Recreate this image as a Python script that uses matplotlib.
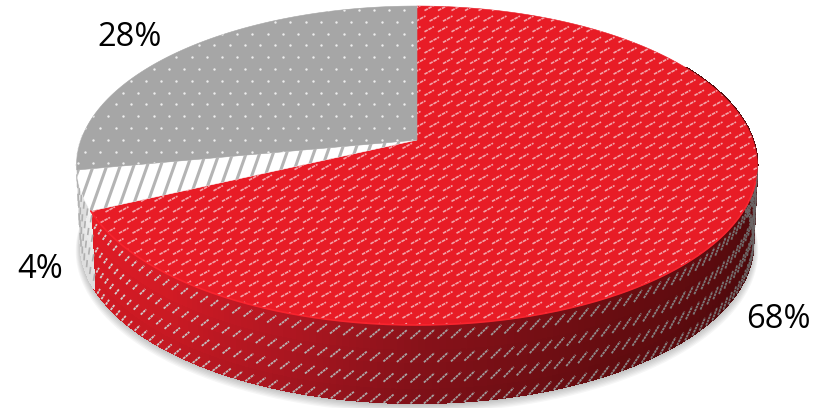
import numpy as np
import matplotlib
matplotlib.use("Agg")
import matplotlib.pyplot as plt
from matplotlib.patches import Polygon
from matplotlib.collections import LineCollection, PolyCollection
from matplotlib.colors import to_rgb

categories = ["A", "B", "C"]
values = [68, 4, 28]
labels = ["68%", "4%", "28%"]
top_colors = ["#e81c26", "#ffffff", "#a6a6a6"]

CX, CY, A, B, K, DEPTH = 417, 140, 336, 155.4, 0.16, 78

def project(theta_deg, depth=0.0, r=1.0):
    t = np.radians(theta_deg)
    u, v = r * np.sin(t), r * np.cos(t)
    p = 1 + K * v
    return CX + A * u / p * (1 - 0.012 * depth / DEPTH), CY - B * v / p + depth

def wedge_xy(a0, a1):
    th = np.linspace(a0, a1, 200)
    x, y = project(th)
    return np.column_stack([np.r_[CX, x], np.r_[CY, y]])

fig = plt.figure(figsize=(8.27, 4.08), dpi=100)
ax = fig.add_axes([0, 0, 1, 1])
ax.set_xlim(0, 827)
ax.set_ylim(408, 0)
ax.axis("off")

edges = np.r_[0, np.cumsum(values)] / np.sum(values) * 360.0

# soft shadow
th_all = np.linspace(0, 360, 400)
for i in range(8):
    sx, sy = project(th_all, DEPTH + 1 + i * 0.8, 1 + i * 0.0022)
    ax.fill(sx, sy, color="#000000", alpha=0.035, lw=0, zorder=1)

# side wall shading
def side_rgb(theta, frac):
    if theta > edges[1]:
        base = np.array(to_rgb("#f2f2f2"))
    else:
        stops_t = [60, 110, 150, 180, 200, 220, 245]
        stops_c = [to_rgb(c) for c in ["#4a0a0c", "#520a0d", "#6a0d11", "#8a121a", "#b41722", "#d41b25", "#e61c26"]]
        base = np.array([np.interp(theta, stops_t, [c[j] for c in stops_c]) for j in range(3)])
    return tuple(base * (1 - 0.10 * frac))

quads, cols = [], []
ths = np.arange(60, 272, 1.0)
ds = np.linspace(0, DEPTH, 7)
for t0 in ths:
    for d0, d1 in zip(ds[:-1], ds[1:]):
        x0, y0 = project(t0, d0); x1, y1 = project(t0 + 1, d0)
        x2, y2 = project(t0 + 1, d1); x3, y3 = project(t0, d1)
        quads.append([(x0, y0), (x1, y1), (x2, y2), (x3, y3)])
        cols.append(side_rgb(t0 + 0.5, d0 / DEPTH))
ax.add_collection(PolyCollection(quads, facecolors=cols, edgecolors=cols, linewidths=0.9,
                                 antialiaseds=False, zorder=2))

# side wall texture
segs_light, seg_cols = [], []
for frac in [0.12, 0.42, 0.68, 0.95]:
    for t0 in np.arange(62, edges[1], 1.95):
        d = frac * DEPTH
        segs_light.append([project(t0, d + 4.5), project(t0 - 1.5, d - 4.5)])
        mix = np.clip((t0 - 110) / 125, 0, 1)
        seg_cols.append((0.42 + 0.42 * mix, 0.40 + 0.42 * mix, 0.40 + 0.42 * mix))
side_lines = LineCollection(segs_light, colors=seg_cols, linewidths=1.3,
                            linestyles=(0, (1.5, 0.4)), zorder=3)
ax.add_collection(side_lines)
white_side = []
for frac in [0.1, 0.35, 0.6, 0.85]:
    for t0 in np.arange(edges[1] + 0.5, 262, 2.4):
        white_side.append([project(t0, frac * DEPTH + 5), project(t0 - 1.0, frac * DEPTH - 5)])
ax.add_collection(LineCollection(white_side, colors="#b0b0b0", linewidths=1.2, zorder=3))

# top faces
patches = []
for i in range(3):
    poly = Polygon(wedge_xy(edges[i], edges[i + 1]), closed=True, facecolor=top_colors[i],
                   edgecolor=top_colors[i], linewidth=0.4, zorder=4)
    ax.add_patch(poly)
    patches.append(poly)

# red texture: short slanted dashes
segs = []
for row, y in enumerate(np.arange(8, 330, 10.6)):
    off = (row % 2) * 5
    for x in np.arange(60 + off, 770, 13.5):
        segs.append([(x, y + 2.6), (x + 9.5, y - 2.6)])
lc = LineCollection(segs, colors="#f4a3a8", linewidths=1.2, linestyles=(0, (2.2, 0.5)), zorder=5)
ax.add_collection(lc)
lc.set_clip_path(patches[0])

# white slice: diagonal grey stripes
segs = []
for x in np.arange(40, 480, 13.5):
    segs.append([(x, 240), (x + 46, 110)])
lc = LineCollection(segs, colors="#b4b4b4", linewidths=2.2, zorder=5)
ax.add_collection(lc)
lc.set_clip_path(patches[1])

# grey slice: small dots
px, py = [], []
for row, y in enumerate(np.arange(10, 172, 11.8)):
    off = (row % 2) * 7.5
    for x in np.arange(70 + off, 420, 15.2):
        px.append(x); py.append(y)
sc = ax.scatter(px, py, s=3.0, c="#ededed", linewidths=0, zorder=5)
sc.set_clip_path(patches[2])

# rim highlight on red slice
th = np.linspace(105, edges[1], 200)
rx, ry = project(th)
ax.plot(rx, ry, color="#f8242e", lw=1.2, zorder=6, solid_capstyle="round")

label_pos = [(778, 319), (40, 270), (130, 38)]
for (lx, ly), s in zip(label_pos, labels):
    ax.text(lx, ly, s, ha="center", va="center", fontsize=23.5, family="Open Sans", color="#000000", zorder=7)

fig.savefig("out.png", dpi=100)
